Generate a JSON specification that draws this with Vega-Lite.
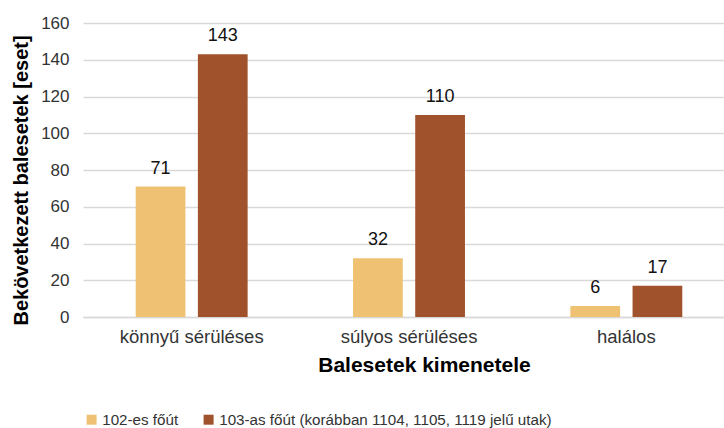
{
  "$schema": "https://vega.github.io/schema/vega-lite/v6.json",
  "autosize": {"type": "none"},
  "width": 652,
  "height": 294,
  "padding": {"left": 83, "top": 23, "right": 0, "bottom": 111},
  "background": "white",
  "config": {
    "font": "Liberation Sans",
    "view": {"stroke": null}
  },
  "data": {
    "values": [
      {"kimenetel": "könnyű sérüléses", "ut": "102-es főút", "eset": 71},
      {"kimenetel": "könnyű sérüléses", "ut": "103-as főút (korábban 1104, 1105, 1119 jelű utak)", "eset": 143},
      {"kimenetel": "súlyos sérüléses", "ut": "102-es főút", "eset": 32},
      {"kimenetel": "súlyos sérüléses", "ut": "103-as főút (korábban 1104, 1105, 1119 jelű utak)", "eset": 110},
      {"kimenetel": "halálos", "ut": "102-es főút", "eset": 6},
      {"kimenetel": "halálos", "ut": "103-as főút (korábban 1104, 1105, 1119 jelű utak)", "eset": 17}
    ]
  },
  "encoding": {
    "x": {
      "field": "kimenetel", "type": "nominal", "sort": null,
      "scale": {"paddingInner": 0.485, "paddingOuter": 0.2425},
      "axis": {
        "title": "Balesetek kimenetele", "titleFontSize": 21, "titleFontWeight": "bold", "titleColor": "#000000",
        "titleX": 341, "titleY": 54, "titleAlign": "center", "titleBaseline": "alphabetic",
        "labelAngle": 0, "labelFontSize": 18.5, "labelColor": "#333333", "labelPadding": 10,
        "ticks": false, "domain": true, "domainColor": "#D9D9D9", "domainWidth": 1.5
      }
    },
    "xOffset": {"field": "ut", "type": "nominal", "scale": {"paddingInner": 0.2}},
    "y": {
      "field": "eset", "type": "quantitative",
      "scale": {"domain": [0, 160]},
      "axis": {
        "title": "Bekövetkezett balesetek [eset]", "titleFontSize": 20, "titleFontWeight": "bold", "titleColor": "#000000",
        "titleX": -56, "titleY": 157, "titleAngle": 270, "titleAlign": "center", "titleBaseline": "alphabetic",
        "values": [0, 20, 40, 60, 80, 100, 120, 140, 160],
        "labelFontSize": 17, "labelColor": "#333333", "labelPadding": 14,
        "ticks": false, "domain": false, "gridColor": "#D9D9D9", "gridWidth": 1.5
      }
    }
  },
  "layer": [
    {
      "mark": {"type": "bar"},
      "encoding": {
        "color": {
          "field": "ut", "type": "nominal",
          "scale": {"range": ["#EEC272", "#A0522D"]},
          "legend": {
            "title": null, "orient": "none", "direction": "horizontal",
            "legendX": 1, "legendY": 389,
            "symbolType": "square", "symbolSize": 100, "symbolStrokeWidth": 0,
            "labelFontSize": 15.2, "labelColor": "#333333", "labelLimit": 500,
            "columnPadding": 22, "labelOffset": 3
          }
        }
      }
    },
    {
      "mark": {"type": "text", "baseline": "alphabetic", "dy": -13, "fontSize": 18, "color": "#111111"},
      "encoding": {
        "text": {"field": "eset", "type": "quantitative"}
      }
    }
  ]
}
